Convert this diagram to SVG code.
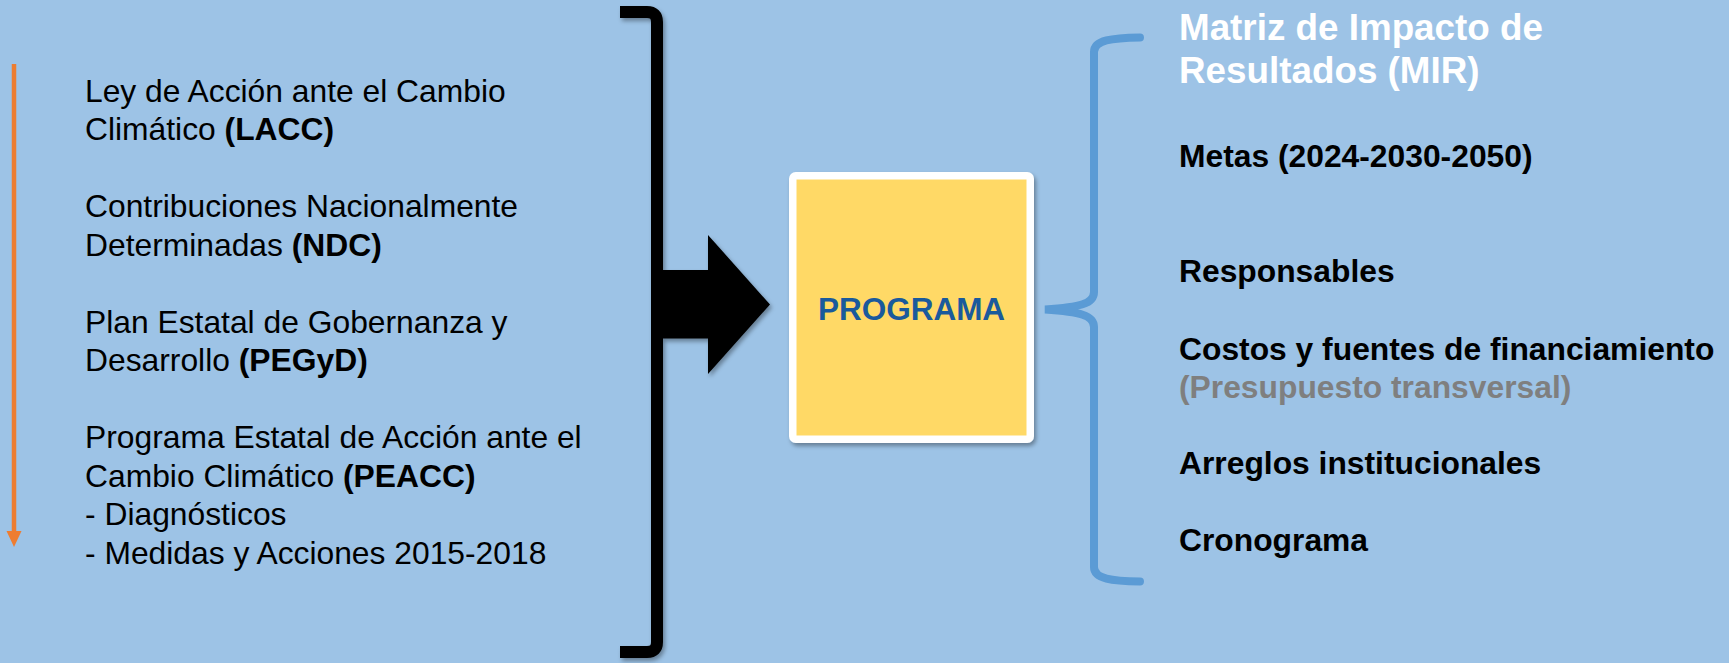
<svg xmlns="http://www.w3.org/2000/svg" width="1729" height="663" viewBox="0 0 1729 663">
<style>
.t{font-family:"Liberation Sans",Arial,sans-serif;font-size:31.8px;fill:#000}
.b{font-weight:bold}
.title{font-family:"Liberation Sans",Arial,sans-serif;font-size:36.8px;font-weight:bold;fill:#fff}
.gray{fill:#7f7f7f}
.prog{font-family:"Liberation Sans",Arial,sans-serif;font-size:31.5px;font-weight:bold;fill:#1a5a9c}
</style>
<defs>
<filter id="sh" x="-20%" y="-20%" width="140%" height="140%">
<feDropShadow dx="2" dy="3" stdDeviation="2" flood-color="#000" flood-opacity="0.35"/>
</filter>
</defs>
<rect width="1729" height="663" fill="#9dc3e6"/>
<g id="connectors">
<g id="timeline-arrow">
<line x1="14" y1="64" x2="14" y2="533" stroke="#ed7d31" stroke-width="4.5"/>
<polygon points="6.5,531 21.5,531 14,547" fill="#ed7d31"/>
</g>
<g id="black-bracket-arrow" filter="url(#sh)">
<path d="M620,12 L647,12 Q657,12 657,22 L657,642 Q657,652 647,652 L620,652" fill="none" stroke="#000" stroke-width="12"/>
<polygon points="652,270 708,270 708,235 770,304.5 708,374 708,338.5 652,338.5" fill="#000"/>
</g>
<path id="blue-brace" d="M1140,37.5 C1112,38 1094,40 1094,52 L1094,292 C1094,304 1080,307 1045,309.5 C1080,312 1094,315 1094,327 L1094,567 C1094,579 1112,581 1140,581.5" fill="none" stroke="#5b9bd5" stroke-width="8" stroke-linecap="round"/>
</g>
<g id="sources">
<text class="t" transform="translate(85 0)">
<tspan x="0" y="101.7">Ley de Acción ante el Cambio</tspan>
<tspan x="0" y="140.2">Climático <tspan class="b">(LACC)</tspan></tspan>
<tspan x="0" y="217.2">Contribuciones Nacionalmente</tspan>
<tspan x="0" y="255.7">Determinadas <tspan class="b">(NDC)</tspan></tspan>
<tspan x="0" y="332.7">Plan Estatal de Gobernanza y</tspan>
<tspan x="0" y="371.2">Desarrollo <tspan class="b">(PEGyD)</tspan></tspan>
<tspan x="0" y="448.2">Programa Estatal de Acción ante el</tspan>
<tspan x="0" y="486.7">Cambio Climático <tspan class="b">(PEACC)</tspan></tspan>
<tspan x="0" y="525.2">- Diagnósticos</tspan>
<tspan x="0" y="563.7">- Medidas y Acciones 2015-2018</tspan>
</text>
</g>
<g id="programa">
<rect x="792.75" y="175.75" width="237.5" height="263.5" rx="3" fill="#ffd966" stroke="#fff" stroke-width="7.5" filter="url(#sh)"/>
<text class="prog" x="911.5" y="319.5" text-anchor="middle">PROGRAMA</text>
</g>
<g id="mir">
<text class="title" transform="translate(1179 0)">
<tspan x="0" y="40">Matriz de Impacto de</tspan>
<tspan x="0" y="83.3">Resultados (MIR)</tspan>
</text>
<text class="t b" transform="translate(1179 0)">
<tspan x="0" y="166.7">Metas (2024-2030-2050)</tspan>
<tspan x="0" y="281.7">Responsables</tspan>
<tspan x="0" y="360">Costos y fuentes de financiamiento</tspan>
<tspan x="0" y="397.7" class="gray">(Presupuesto transversal)</tspan>
<tspan x="0" y="474">Arreglos institucionales</tspan>
<tspan x="0" y="551">Cronograma</tspan>
</text>
</g>
</svg>
